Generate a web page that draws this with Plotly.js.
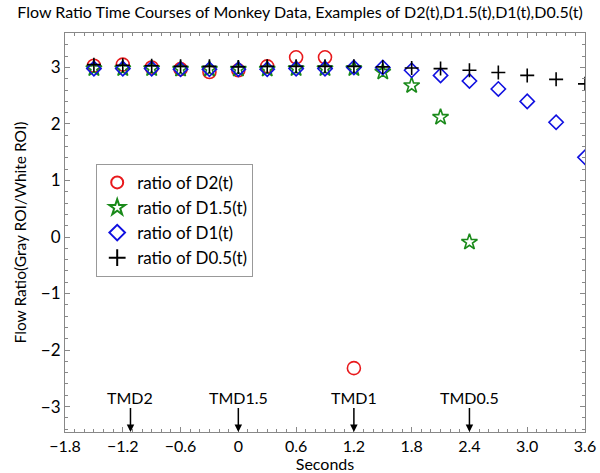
<!DOCTYPE html>
<html>
<head>
<meta charset="utf-8">
<script src="https://cdn.plot.ly/plotly-3.0.1.min.js"></script>
<style>html,body{margin:0;padding:0;background:#fff;}#chart{width:600px;height:473px;}</style>
</head>
<body>
<div id="chart"></div>
<script>
// Time points (seconds)
var tD2   = [-1.5, -1.2, -0.9, -0.6, -0.3, 0, 0.3, 0.6, 0.9, 1.2];
var vD2   = [3.03, 3.05, 3.0, 2.97, 2.92, 2.95, 3.02, 3.18, 3.18, -2.32];
var tD15  = [-1.5, -1.2, -0.9, -0.6, -0.3, 0, 0.3, 0.6, 0.9, 1.2, 1.5, 1.8, 2.1, 2.4];
var vD15  = [2.98, 2.98, 2.98, 2.97, 2.97, 2.97, 2.97, 2.98, 2.98, 2.98, 2.92, 2.68, 2.12, -0.09];
var tD1   = [-1.5, -1.2, -0.9, -0.6, -0.3, 0, 0.3, 0.6, 0.9, 1.2, 1.5, 1.8, 2.1, 2.4, 2.7, 3.0, 3.3, 3.6];
var vD1   = [2.98, 2.98, 2.98, 2.97, 2.97, 2.97, 2.97, 2.98, 2.98, 3.0, 3.0, 2.95, 2.86, 2.76, 2.62, 2.40, 2.03, 1.41];
var tD05  = [-1.5, -1.2, -0.9, -0.6, -0.3, 0, 0.3, 0.6, 0.9, 1.2, 1.5, 1.8, 2.1, 2.4, 2.7, 3.0, 3.3, 3.6];
var vD05  = [3.05, 3.04, 3.03, 3.02, 3.02, 3.01, 3.02, 3.02, 3.02, 3.02, 3.01, 2.99, 2.98, 2.95, 2.91, 2.86, 2.79, 2.71];
var seriesNames = ['ratio of D2(t)', 'ratio of D1.5(t)', 'ratio of D1(t)', 'ratio of D0.5(t)'];

var xTickVals = [-1.8, -1.2, -0.6, 0, 0.6, 1.2, 1.8, 2.4, 3.0, 3.6];
var xTickText = ['\u22121.8', '\u22121.2', '\u22120.6', '0', '0.6', '1.2', '1.8', '2.4', '3.0', '3.6'];
var yTickVals = [-3, -2, -1, 0, 1, 2, 3];
var yTickText = ['\u22123', '\u22122', '\u22121', '0', '1', '2', '3'];

var markLabels = ['TMD2', 'TMD1.5', 'TMD1', 'TMD0.5'];
var markTimes  = [-1.12, 0, 1.2, 2.4];

var FONT = 'Lato, "Open Sans", sans-serif';

var traces = [
  {x: tD2, y: vD2, name: seriesNames[0], mode: 'markers', type: 'scatter',
   marker: {symbol: 'circle-open', size: 13, color: '#e8191c', line: {width: 1.6, color: '#e8191c'}}},
  {x: tD15, y: vD15, name: seriesNames[1], mode: 'markers', type: 'scatter',
   marker: {symbol: 'star-open', size: 12, color: '#1a8a1a', line: {width: 1.6, color: '#1a8a1a'}}},
  {x: tD1, y: vD1, name: seriesNames[2], mode: 'markers', type: 'scatter',
   marker: {symbol: 'diamond-open', size: 11, color: '#1010e0', line: {width: 1.6, color: '#1010e0'}}},
  {x: tD05, y: vD05, name: seriesNames[3], mode: 'markers', type: 'scatter',
   marker: {symbol: 'cross-thin-open', size: 10, color: '#000', line: {width: 1.6, color: '#000'}}}
];

var annotations = markLabels.map(function(lbl, i){
  return {x: markTimes[i], y: -3.45, xref: 'x', yref: 'y', text: lbl,
          showarrow: true, arrowhead: 2, arrowsize: 1, arrowwidth: 1.5, arrowcolor: '#000',
          ax: 0, ay: -35, font: {family: FONT, size: 16, color: '#000'}};
});

var layout = {
  width: 600, height: 473,
  margin: {l: 65, r: 15, t: 33, b: 41},
  paper_bgcolor: '#fff', plot_bgcolor: '#fff',
  font: {family: FONT, size: 16, color: '#000'},
  title: {text: 'Flow Ratio Time Courses of Monkey Data, Examples of D2(t),D1.5(t),D1(t),D0.5(t)',
          x: 0.5, xanchor: 'center', y: 0.985, yanchor: 'top', font: {family: FONT, size: 16, color: '#000'}},
  showlegend: true,
  legend: {x: 0.06, y: 0.672, xanchor: 'left', yanchor: 'top', bgcolor: '#fff',
           bordercolor: '#999', borderwidth: 1, font: {family: FONT, size: 17, color: '#000'},
           tracegroupgap: 0, itemsizing: 'constant'},
  xaxis: {range: [-1.8, 3.6], tickmode: 'array', tickvals: xTickVals, ticktext: xTickText,
          showgrid: false, zeroline: false, showline: true, linecolor: '#888', linewidth: 1,
          mirror: 'ticks', ticks: 'inside', ticklen: 5, tickcolor: '#888',
          minor: {dtick: 0.1, ticks: 'inside', ticklen: 3, tickcolor: '#888', showgrid: false},
          title: {text: 'Seconds', standoff: 0, font: {family: FONT, size: 16, color: '#000'}},
          tickfont: {family: FONT, size: 16, color: '#000'}},
  yaxis: {range: [-3.45, 3.61], tickmode: 'array', tickvals: yTickVals, ticktext: yTickText,
          showgrid: false, zeroline: false, showline: true, linecolor: '#888', linewidth: 1,
          mirror: 'ticks', ticks: 'inside', ticklen: 5, tickcolor: '#888',
          minor: {dtick: 0.2, ticks: 'inside', ticklen: 3, tickcolor: '#888', showgrid: false},
          title: {text: 'Flow Ratio(Gray ROI/White ROI)', standoff: 10, font: {family: FONT, size: 15.5, color: '#000'}},
          tickfont: {family: FONT, size: 17, color: '#000'}},
  annotations: annotations
};

Plotly.newPlot('chart', traces, layout, {displayModeBar: false, staticPlot: true});
</script>
</body>
</html>
